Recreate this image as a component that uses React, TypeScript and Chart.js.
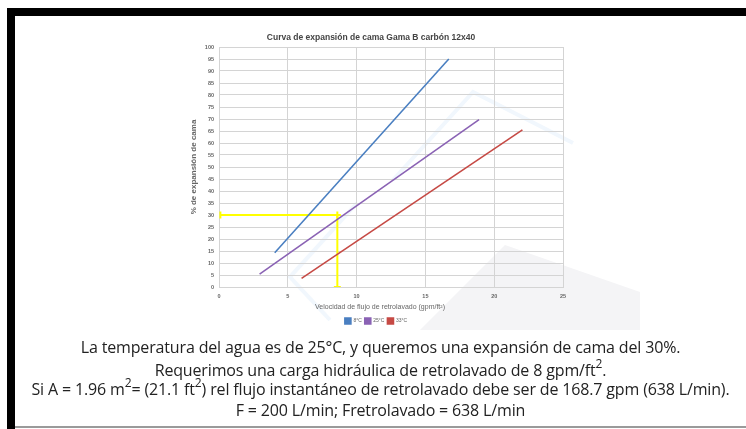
import React, { useEffect, useRef } from "react";
import { Chart, registerables } from "chart.js";

Chart.register(...registerables);

const chartTitle = "Curva de expansión de cama Gama B carbón 12x40";
const xTitle = "Velocidad de flujo de retrolavado (gpm/ft²)";
const yTitle = "% de expansión de cama";
const seriesNames = ["8°C", "25°C", "33°C"];
const seriesColors = ["#4a7fc1", "#8a62b4", "#c64a45"];

const flow8 = [4.05, 16.7];
const exp8 = [14.3, 95];
const flow25 = [2.95, 18.9];
const exp25 = [5.4, 69.7];
const flow33 = [6.0, 22.05];
const exp33 = [3.6, 65.5];

const guideFlowH = [0.1, 8.6];
const guideExpH = [30, 30];
const guideFlowV = [8.6, 8.6];
const guideExpV = [30, 0];

const xTicks = [0, 5, 10, 15, 20, 25];
const yMax = 100;

const pts = (xs: number[], ys: number[]) => xs.map((x, i) => ({ x, y: ys[i] }));

const textPlugin = {
  id: "texts",
  afterDraw(chart: any) {
    const { ctx, chartArea } = chart;
    ctx.save();
    ctx.fillStyle = "#444";
    ctx.font = "bold 8.5px 'Liberation Sans', Arial, sans-serif";
    ctx.textAlign = "center";
    ctx.textBaseline = "middle";
    ctx.fillText(chartTitle, 371 - 150, 38 - 28);
    ctx.fillStyle = "#666";
    ctx.font = "7px 'Liberation Sans', Arial, sans-serif";
    ctx.fillText(xTitle, 380 - 150, chartArea.bottom + 20);
    ctx.restore();
  },
};

function ChartBox() {
  const ref = useRef<HTMLCanvasElement>(null);
  useEffect(() => {
    const yellowLine = {
      borderColor: "#ffff00",
      backgroundColor: "#ffff00",
      borderWidth: 2,
      showLine: true,
      pointStyle: "line",
      pointRadius: 3.5,
      pointBorderWidth: 2,
      pointBorderColor: "#ffff00",
    };
    const chart = new Chart(ref.current!, {
      type: "scatter",
      data: {
        datasets: [
          { label: seriesNames[0], data: pts(flow8, exp8), borderColor: seriesColors[0], backgroundColor: seriesColors[0], showLine: true, pointRadius: 0, borderWidth: 1.6 },
          { label: seriesNames[1], data: pts(flow25, exp25), borderColor: seriesColors[1], backgroundColor: seriesColors[1], showLine: true, pointRadius: 0, borderWidth: 1.6 },
          { label: seriesNames[2], data: pts(flow33, exp33), borderColor: seriesColors[2], backgroundColor: seriesColors[2], showLine: true, pointRadius: 0, borderWidth: 1.6 },
          { label: "guideH", data: pts(guideFlowH, guideExpH), ...yellowLine, pointRotation: 90 } as any,
          { label: "guideV", data: pts(guideFlowV, guideExpV), ...yellowLine, pointRotation: 0 } as any,
        ],
      },
      options: {
        animation: false,
        responsive: false,
        maintainAspectRatio: false,
        layout: { padding: { left: 39, right: 27, top: 19, bottom: 7 } },
        scales: {
          x: {
            type: "linear",
            min: 0,
            max: 25,
            afterBuildTicks: (s: any) => { s.ticks = xTicks.map((v) => ({ value: v })); },
            afterFit: (s: any) => { s.height = 28; },
            grid: { color: "#d4d4d4", lineWidth: 1, drawTicks: false },
            border: { display: true, color: "#d4d4d4" },
            ticks: { padding: 6, color: "#666", font: { size: 5.5, weight: "bold", family: "'Liberation Sans', Arial, sans-serif" } },
          },
          y: {
            type: "linear",
            min: 0,
            max: yMax,
            ticks: { stepSize: 5, padding: 5, color: "#666", font: { size: 5.5, weight: "bold", family: "'Liberation Sans', Arial, sans-serif" } },
            afterFit: (s: any) => { s.width = 30; },
            grid: { color: "#d4d4d4", lineWidth: 1, drawTicks: false },
            border: { display: true, color: "#d4d4d4" },
            title: { display: true, text: yTitle, color: "#666", padding: 0, font: { size: 8, weight: "bold", family: "'Liberation Sans', Arial, sans-serif" } },
          },
        },
        plugins: {
          legend: {
            position: "bottom",
            labels: {
              filter: (item: any) => item.datasetIndex < 3,
              boxWidth: 6,
              boxHeight: 6,
              padding: 3,
              color: "#666",
              font: { size: 5, family: "'Liberation Sans', Arial, sans-serif" },
            },
          },
          title: { display: false },
          tooltip: { enabled: false },
        },
      },
      plugins: [textPlugin],
    } as any);
    return () => chart.destroy();
  }, []);
  return <canvas ref={ref} width={440} height={313} style={{ position: "absolute", left: 150, top: 28, width: 440, height: 313 }} />;
}

const lineStyle: React.CSSProperties = {
  position: "absolute",
  left: 15,
  width: 731,
  textAlign: "center",
  fontFamily: "'Open Sans', 'Noto Sans', sans-serif",
  fontSize: 16,
  letterSpacing: -0.15,
  color: "#222",
  whiteSpace: "nowrap",
  lineHeight: "20px",
};

const sup: React.CSSProperties = { fontSize: 12, lineHeight: 0, position: "relative", top: -2 };

export default function App() {
  return (
    <div style={{ position: "absolute", left: 0, top: 0, width: 746, height: 429, background: "#fff", overflow: "hidden" }}>
      <svg width={746} height={429} style={{ position: "absolute", left: 0, top: 0 }}>
        <polygon points="505,245 640,292 640,330 420,330" fill="#f4f4f6" />
        <polyline points="393,180 473,92 573,143" fill="none" stroke="#f1f7fd" strokeWidth={4} />
        <polyline points="357,203 290,277 330,320" fill="none" stroke="#f1f7fd" strokeWidth={4} />
      </svg>
      <ChartBox />
      <div style={{ position: "absolute", left: 7, top: 8, width: 739, height: 8, background: "#000" }} />
      <div style={{ position: "absolute", left: 7, top: 8, width: 8, height: 421, background: "#000" }} />
      <div style={{ position: "absolute", left: 15, top: 426, width: 731, height: 2, background: "#9a9a9a" }} />
      <div style={{ ...lineStyle, top: 337 }}>La temperatura del agua es de 25°C, y queremos una expansión de cama del 30%.</div>
      <div style={{ ...lineStyle, top: 360 }}>Requerimos una carga hidráulica de retrolavado de 8 gpm/ft<sup style={sup}>2</sup>.</div>
      <div style={{ ...lineStyle, top: 379 }}>Si A = 1.96 m<sup style={sup}>2</sup>= (21.1 ft<sup style={sup}>2</sup>) rel flujo instantáneo de retrolavado debe ser de 168.7 gpm (638 L/min).</div>
      <div style={{ ...lineStyle, top: 400 }}>F = 200 L/min; Fretrolavado = 638 L/min</div>
    </div>
  );
}
